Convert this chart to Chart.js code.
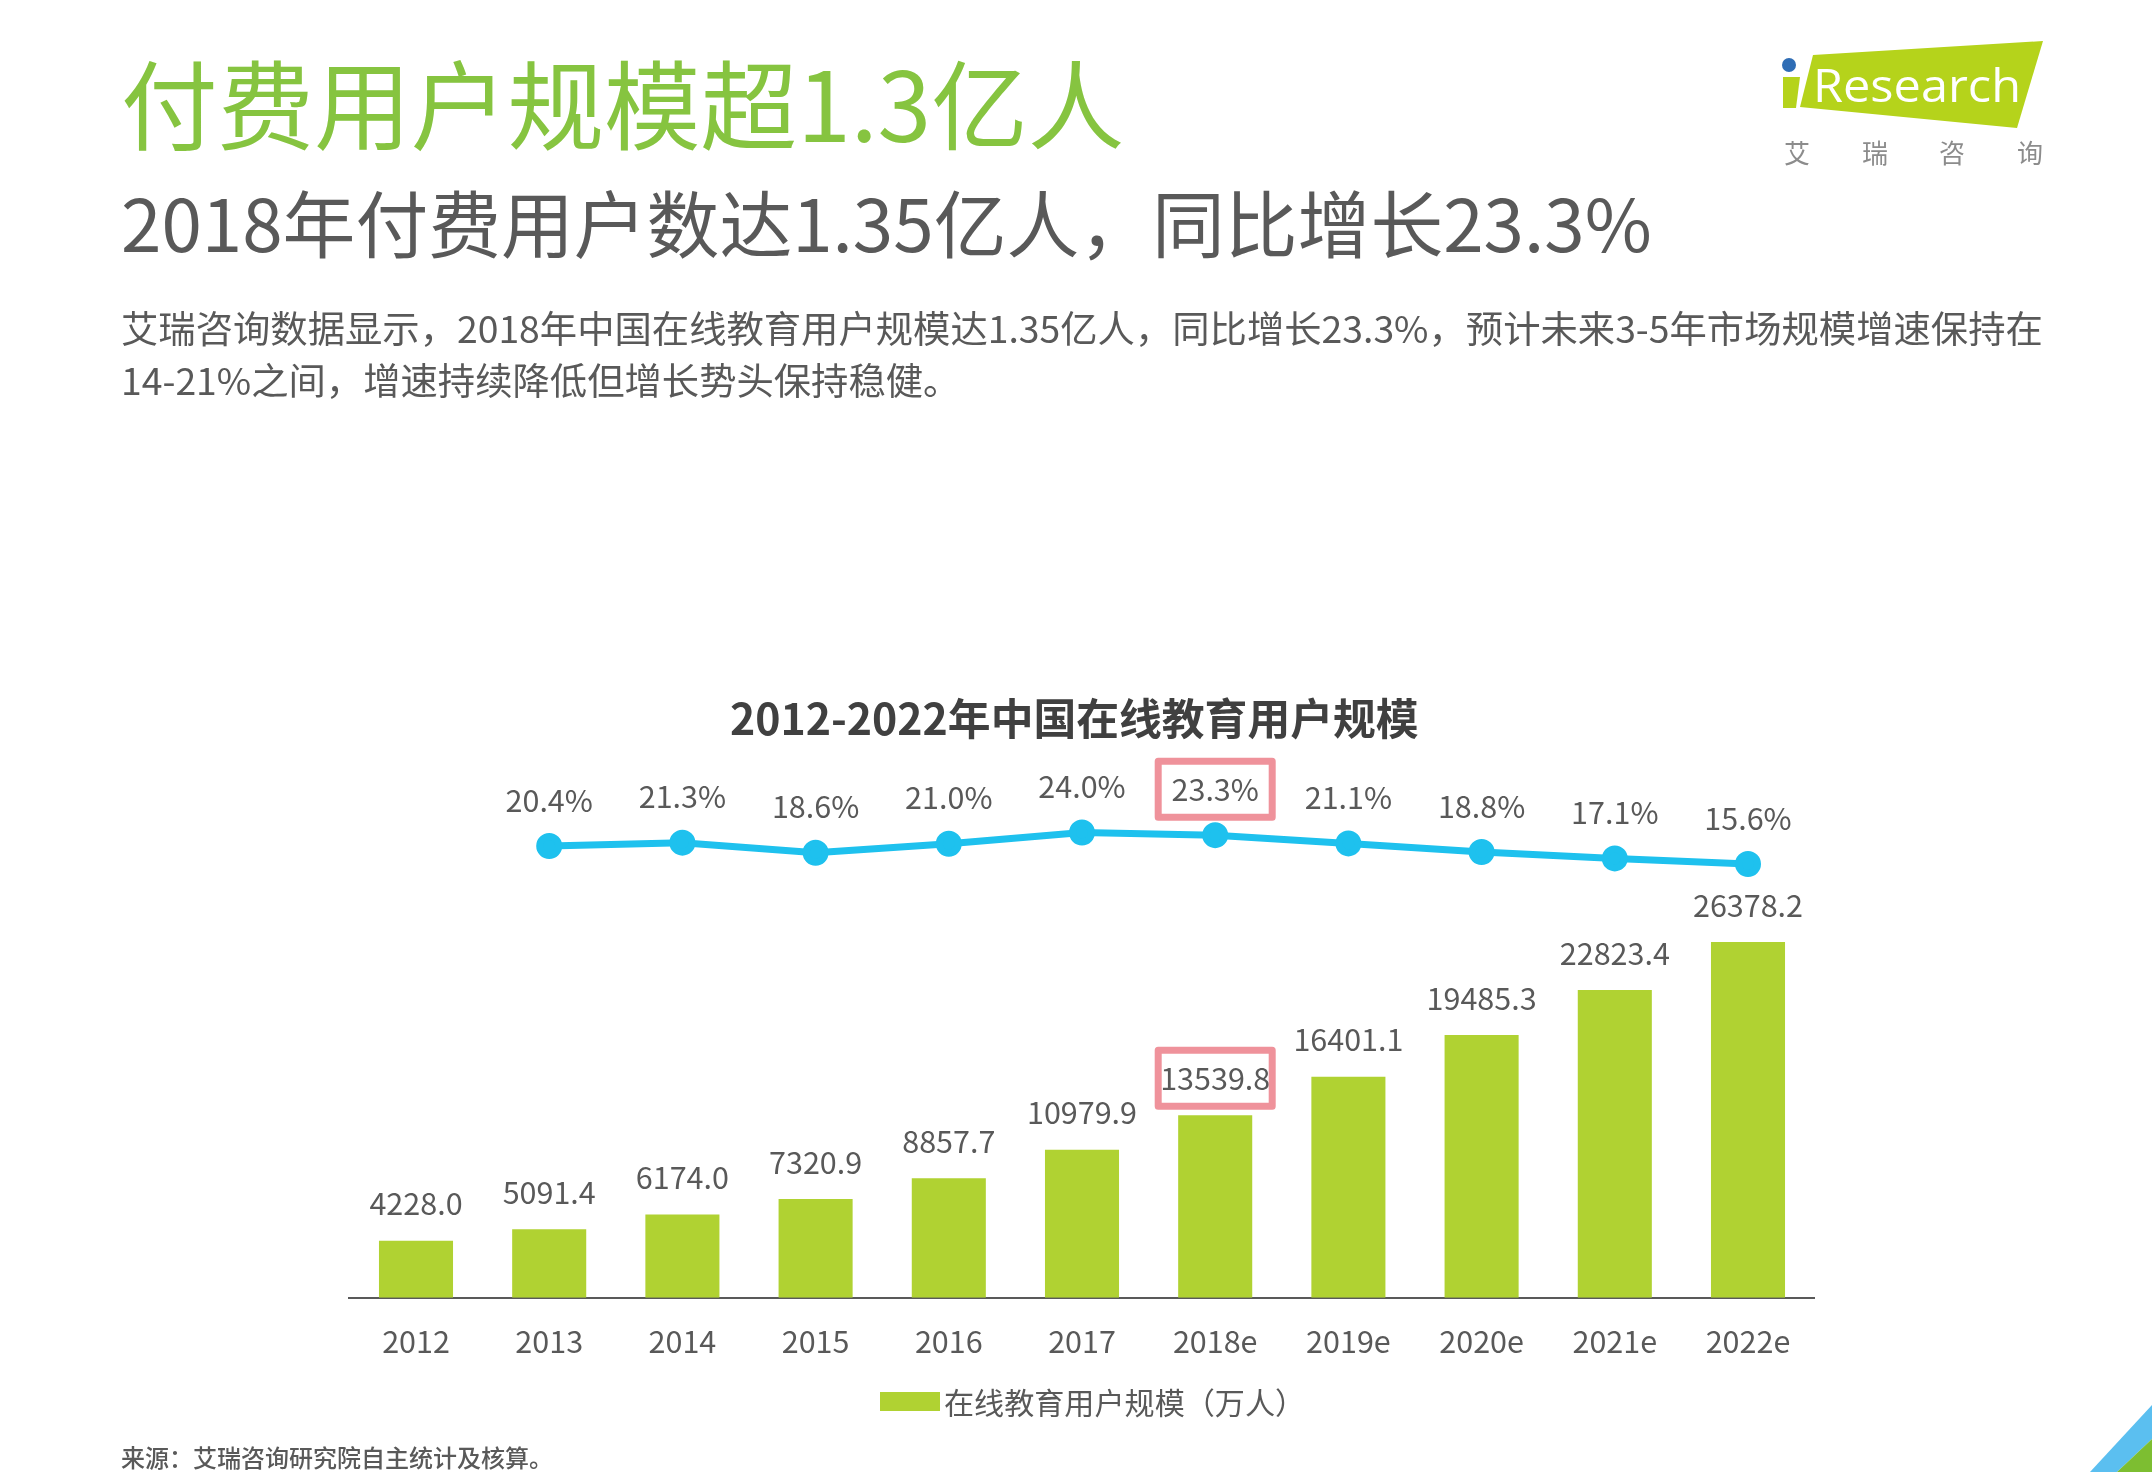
<!DOCTYPE html>
<html lang="zh">
<head>
<meta charset="utf-8">
<title>付费用户规模超1.3亿人</title>
<script src="https://cdn.jsdelivr.net/npm/chart.js@4"></script>
<style>
    html, body { margin: 0; background: #fff; }
    body { position: relative; width: 2152px; height: 1472px; overflow: hidden; font-family: "Noto Sans CJK SC", "Noto Sans", sans-serif; }
    #chart { position: absolute; left: 0; top: 0; }
    #art { position: absolute; left: 0; top: 0; }
    .txt { position: absolute; white-space: nowrap; }
    #h1 { left: 121px; top: 30px; font-size: 96.6px; line-height: 140px; color: #86c440; }
    #h2 { left: 121px; top: 171px; font-size: 72.8px; line-height: 100px; color: #595959; }
    #p1 { left: 121px; top: 300.5px; font-size: 37.35px; line-height: 52px; color: #595959; }
    #p2 { left: 121px; top: 352.5px; font-size: 37.35px; line-height: 52px; color: #595959; }
    #chartTitle { left: 730px; top: 686px; font-size: 42.8px; line-height: 60px; font-weight: 700; color: #404040; }
    #source { left: 121px; top: 1439px; font-size: 24px; line-height: 36px; font-weight: 500; color: #595959; }
    #legend { left: 880px; top: 1379px; height: 44px; display: flex; align-items: center; font-size: 30.1px; color: #595959; }
    #legendBox { display: inline-block; width: 60px; height: 19px; margin-right: 4px; }
</style>
</head>
<body>
<canvas id="chart" width="2152" height="1472"></canvas>

<svg id="art" width="2152" height="1472" viewBox="0 0 2152 1472">
    <polygon points="1813,55 2043,41 2017,128 1800,107" fill="#b5d31b"/>
    <polygon points="1783,77 1800,77 1796,108 1783,108" fill="#b5d31b"/>
    <circle cx="1789" cy="65" r="7" fill="#2f6db5"/>
    <text x="1813" y="102" font-family="Open Sans" font-size="46" fill="#fff" textLength="208" lengthAdjust="spacingAndGlyphs">Research</text>
    <g font-family="Noto Sans CJK SC" font-size="26" fill="#8c8c8c" text-anchor="middle">
        <text x="1797" y="163">艾</text>
        <text x="1875" y="163">瑞</text>
        <text x="1952" y="163">咨</text>
        <text x="2030" y="163">询</text>
    </g>
    <polygon points="2090,1472 2152,1405 2152,1439 2117,1472" fill="#5bbff0"/>
    <polygon points="2117,1472 2152,1439 2152,1472" fill="#7dbe31"/>
</svg>

<div class="txt" id="h1">付费用户规模超1.3亿人</div>
<div class="txt" id="h2">2018年付费用户数达1.35亿人，同比增长23.3%</div>
<div class="txt" id="p1">艾瑞咨询数据显示，2018年中国在线教育用户规模达1.35亿人，同比增长23.3%，预计未来3-5年市场规模增速保持在</div>
<div class="txt" id="p2">14-21%之间，增速持续降低但增长势头保持稳健。</div>
<div class="txt" id="chartTitle">2012-2022年中国在线教育用户规模</div>
<div class="txt" id="legend"><span id="legendBox"></span><span id="legendText"></span></div>
<div class="txt" id="source">来源：艾瑞咨询研究院自主统计及核算。</div>

<script>
    const years = ['2012', '2013', '2014', '2015', '2016', '2017', '2018e', '2019e', '2020e', '2021e', '2022e'];
    const users = [4228.0, 5091.4, 6174.0, 7320.9, 8857.7, 10979.9, 13539.8, 16401.1, 19485.3, 22823.4, 26378.2];
    // no growth value for the first year
    const growth = [null, 20.4, 21.3, 18.6, 21.0, 24.0, 23.3, 21.1, 18.8, 17.1, 15.6];
    const legendLabel = '在线教育用户规模（万人）';
    const highlightYear = '2018e';

    const fontFamily = '"Noto Sans CJK SC", "Noto Sans", sans-serif';

    function drawBox(ctx, x, y) {
        ctx.save();
        ctx.strokeStyle = '#ef929b';
        ctx.lineWidth = 7;
        ctx.lineJoin = 'round';
        ctx.strokeRect(x - 57, y - 28, 114, 56);
        ctx.restore();
    }

    // value labels and the two pink boxes around the highlighted year
    const valueLabels = {
        id: 'valueLabels',
        afterDatasetsDraw(chart) {
            const ctx = chart.ctx;
            const hi = years.indexOf(highlightYear);
            ctx.save();
            ctx.font = '30.5px ' + fontFamily;
            ctx.fillStyle = '#595959';
            ctx.textAlign = 'center';
            ctx.textBaseline = 'middle';

            chart.getDatasetMeta(0).data.forEach((bar, i) => {
                const y = bar.y - 37;
                ctx.fillText(users[i].toFixed(1), bar.x, y);
                if (i === hi) drawBox(ctx, bar.x, y);
            });
            chart.getDatasetMeta(1).data.forEach((pt, i) => {
                if (growth[i] === null) return;
                const y = pt.y - 46;
                ctx.fillText(growth[i].toFixed(1) + '%', pt.x, y);
                if (i === hi) drawBox(ctx, pt.x, y);
            });
            ctx.restore();
        }
    };

    const barColor = '#b0d232';

    new Chart(document.getElementById('chart'), {
        data: {
            labels: years,
            datasets: [
                {
                    type: 'bar',
                    label: legendLabel,
                    data: users,
                    yAxisID: 'y',
                    backgroundColor: barColor,
                    categoryPercentage: 1,
                    barPercentage: 0.556,
                    order: 2
                },
                {
                    type: 'line',
                    label: '增长率',
                    data: growth,
                    yAxisID: 'y1',
                    borderColor: '#1ec1ee',
                    backgroundColor: '#1ec1ee',
                    borderWidth: 7,
                    pointRadius: 9.5,
                    tension: 0,
                    order: 1
                }
            ]
        },
        options: {
            responsive: false,
            devicePixelRatio: 1,
            animation: false,
            layout: { padding: { left: 349.4, right: 337.4, top: 780, bottom: 87.6 } },
            scales: {
                x: {
                    grid: { display: false, drawTicks: false },
                    border: { color: '#595959', width: 2 },
                    ticks: { color: '#595959', font: { size: 30.5, family: fontFamily }, padding: 25, maxRotation: 0, autoSkip: false }
                },
                y: { display: false, min: 0, max: 38400 },
                y1: { display: false, min: -100, max: 38 }
            },
            plugins: {
                title: { display: false },
                tooltip: { enabled: false },
                legend: { display: false }
            }
        },
        plugins: [valueLabels]
    });

    document.getElementById('legendBox').style.background = barColor;
    document.getElementById('legendText').textContent = legendLabel;
</script>
</body>
</html>
